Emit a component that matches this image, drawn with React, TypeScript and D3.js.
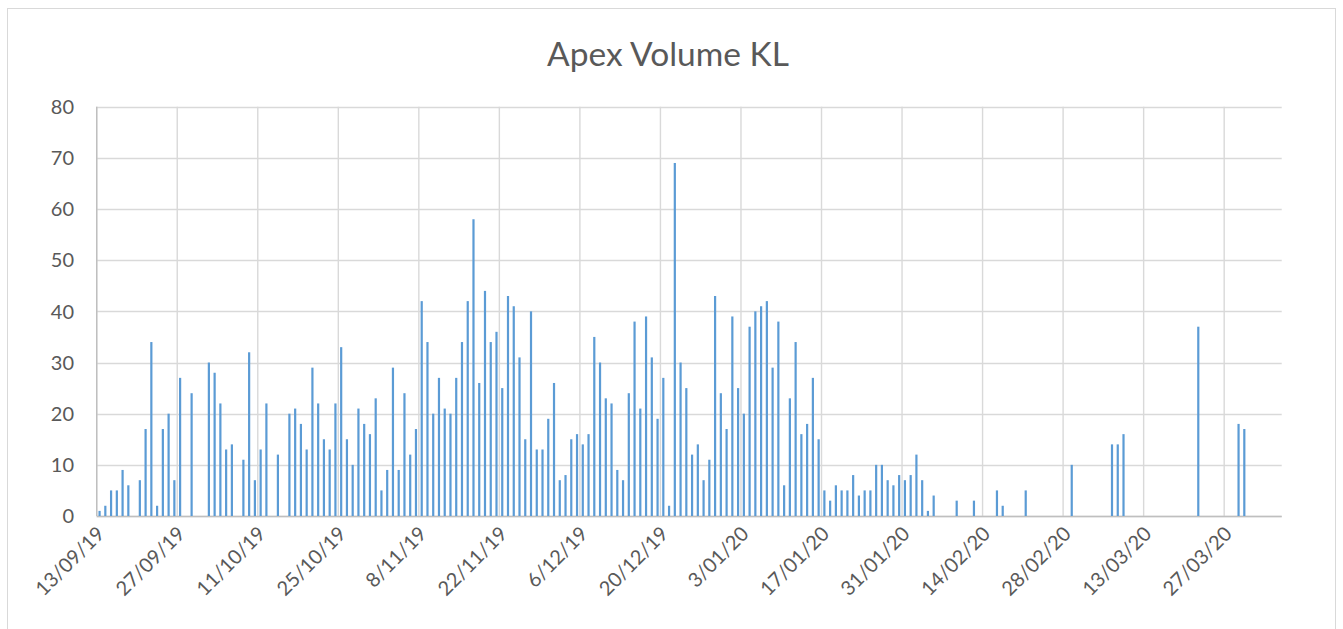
import React from "react";
import * as d3 from "d3";

const title = "Apex Volume KL";
const axisStart = "13/09/19";
const axisEnd = "06/04/20"; // exclusive end of the date axis
const tickStepDays = 14;
const yTicks = [0, 10, 20, 30, 40, 50, 60, 70, 80];

const dates = [
  "13/09/19", "14/09/19", "15/09/19", "16/09/19", "17/09/19", "18/09/19", "20/09/19", "21/09/19",
  "22/09/19", "23/09/19", "24/09/19", "25/09/19", "26/09/19", "27/09/19", "29/09/19",
  "02/10/19", "03/10/19", "04/10/19", "05/10/19", "06/10/19", "08/10/19", "09/10/19", "10/10/19",
  "11/10/19", "12/10/19", "14/10/19", "16/10/19", "17/10/19", "18/10/19", "19/10/19", "20/10/19",
  "21/10/19", "22/10/19", "23/10/19", "24/10/19", "25/10/19", "26/10/19", "27/10/19", "28/10/19",
  "29/10/19", "30/10/19", "31/10/19",
  "01/11/19", "02/11/19", "03/11/19", "04/11/19", "05/11/19", "06/11/19", "07/11/19", "08/11/19",
  "09/11/19", "10/11/19", "11/11/19", "12/11/19", "13/11/19", "14/11/19", "15/11/19", "16/11/19",
  "17/11/19", "18/11/19", "19/11/19", "20/11/19", "21/11/19", "22/11/19", "23/11/19", "24/11/19",
  "25/11/19", "26/11/19", "27/11/19", "28/11/19", "29/11/19", "30/11/19",
  "01/12/19", "02/12/19", "03/12/19", "04/12/19", "05/12/19", "06/12/19", "07/12/19", "08/12/19",
  "09/12/19", "10/12/19", "11/12/19", "12/12/19", "13/12/19", "14/12/19", "15/12/19", "16/12/19",
  "17/12/19", "18/12/19", "19/12/19", "20/12/19", "21/12/19", "22/12/19", "23/12/19", "24/12/19",
  "25/12/19", "26/12/19", "27/12/19", "28/12/19", "29/12/19", "30/12/19", "31/12/19",
  "01/01/20", "02/01/20", "03/01/20", "04/01/20", "05/01/20", "06/01/20", "07/01/20", "08/01/20",
  "09/01/20", "10/01/20", "11/01/20", "12/01/20", "13/01/20", "14/01/20", "15/01/20", "16/01/20",
  "17/01/20", "18/01/20", "19/01/20", "20/01/20", "21/01/20", "22/01/20", "23/01/20", "24/01/20",
  "25/01/20", "26/01/20", "27/01/20", "28/01/20", "29/01/20", "30/01/20", "31/01/20",
  "01/02/20", "02/02/20", "03/02/20", "04/02/20", "05/02/20", "09/02/20", "12/02/20", "16/02/20",
  "17/02/20", "21/02/20", "29/02/20",
  "07/03/20", "08/03/20", "09/03/20", "22/03/20", "29/03/20", "30/03/20",
];

const volumes = [
  1, 2, 5, 5, 9, 6, 7, 17,
  34, 2, 17, 20, 7, 27, 24,
  30, 28, 22, 13, 14, 11, 32, 7,
  13, 22, 12, 20, 21, 18, 13, 29,
  22, 15, 13, 22, 33, 15, 10, 21,
  18, 16, 23,
  5, 9, 29, 9, 24, 12, 17, 42,
  34, 20, 27, 21, 20, 27, 34, 42,
  58, 26, 44, 34, 36, 25, 43, 41,
  31, 15, 40, 13, 13, 19,
  26, 7, 8, 15, 16, 14, 16, 35,
  30, 23, 22, 9, 7, 24, 38, 21,
  39, 31, 19, 27, 2, 69, 30, 25,
  12, 14, 7, 11, 43, 24, 17,
  39, 25, 20, 37, 40, 41, 42, 29,
  38, 6, 23, 34, 16, 18, 27, 15,
  5, 3, 6, 5, 5, 8, 4, 5,
  5, 10, 10, 7, 6, 8, 7,
  8, 12, 7, 1, 4, 3, 3, 5,
  2, 5, 10,
  14, 14, 16, 37, 18, 17,
];

const W = 1343;
const H = 629;
const FONT = "Lato, 'Open Sans', sans-serif";
const TEXT = "#595959";
const GRID = "#D9D9D9";
const BAR = "#5B9BD5";

export default function App() {
  const parse = d3.utcParse("%d/%m/%y");
  const fmt = d3.utcFormat("%-d/%m/%y");
  const start = parse(axisStart) as Date;
  const end = parse(axisEnd) as Date;
  const nDays = d3.utcDay.count(start, end);

  const left = 96.7;
  const right = 1281.7;
  const top = 106.7;
  const bottom = 516;

  const x = d3.scaleUtc().domain([start, end]).range([left, right]);
  const y = d3.scaleLinear().domain([0, 80]).range([bottom, top]);

  const ticks = d3.range(0, nDays, tickStepDays).map((i) => d3.utcDay.offset(start, i));
  const data = dates.map((d, i) => ({ date: parse(d) as Date, v: volumes[i] }));
  const barW = 2.2;

  return (
    <div style={{ position: "absolute", left: 0, top: 0 }}>
      <svg width={W} height={H} style={{ display: "block", background: "#fff" }}>
        <rect x={7.5} y={8.5} width={W - 15} height={H} fill="#fff" stroke="#D9D9D9" strokeWidth={1} />
        <text x={668} y={66} textAnchor="middle" fontFamily={FONT} fontSize={33.5} fill={TEXT}>
          {title}
        </text>
        {yTicks.map((t) => (
          <line key={"h" + t} x1={left} x2={right} y1={Math.round(y(t)) + 0.5} y2={Math.round(y(t)) + 0.5} stroke={GRID} strokeWidth={1.4} />
        ))}
        {ticks.map((t, i) => (
          <line key={"v" + i} x1={x(t)} x2={x(t)} y1={top} y2={bottom} stroke={GRID} strokeWidth={1.4} />
        ))}
        <line x1={left} x2={left} y1={top} y2={bottom} stroke="#BFBFBF" strokeWidth={1.4} />
        <line x1={left} x2={right} y1={Math.round(bottom) + 0.5} y2={Math.round(bottom) + 0.5} stroke="#BFBFBF" strokeWidth={1.4} />
        {data.map((d, i) => {
          const cx = x(d3.utcHour.offset(d.date, 12));
          return <rect key={"b" + i} x={cx - barW / 2} y={y(d.v)} width={barW} height={y(0) - y(d.v)} fill={BAR} />;
        })}
        {yTicks.map((t) => (
          <text key={"yl" + t} x={74} y={y(t)} dy="0.36em" textAnchor="end" fontFamily={FONT} fontSize={20} fill={TEXT}>
            {t}
          </text>
        ))}
        {ticks.map((t, i) => {
          const ax = x(t) + 9;
          const ay = 535;
          return (
            <text key={"xl" + i} x={ax} y={ay} textAnchor="end" fontFamily={FONT} fontSize={20} fill={TEXT} transform={`rotate(-45 ${ax} ${ay})`}>
              {fmt(t)}
            </text>
          );
        })}
      </svg>
    </div>
  );
}
